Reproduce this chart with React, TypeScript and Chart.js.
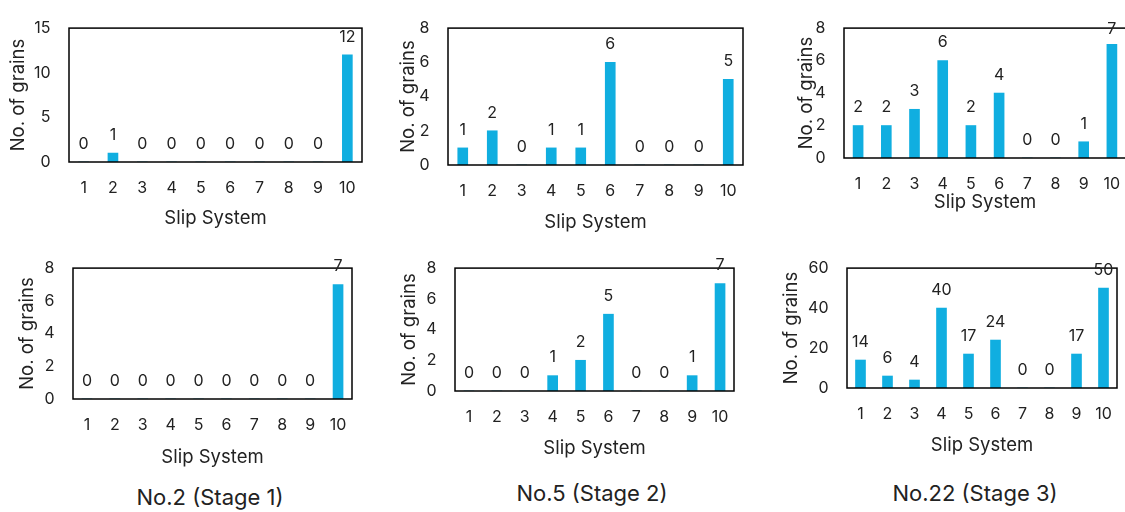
import { useEffect, useRef } from "react";
import { Chart, registerables } from "chart.js";

Chart.register(...registerables);

// Slip system categories shared by every panel
const slipSystems = ["1", "2", "3", "4", "5", "6", "7", "8", "9", "10"];

// Grain counts per slip system (upper row)
const grainsNo2Upper = [0, 1, 0, 0, 0, 0, 0, 0, 0, 12];
const grainsNo5Upper = [1, 2, 0, 1, 1, 6, 0, 0, 0, 5];
const grainsNo22Upper = [2, 2, 3, 6, 2, 4, 0, 0, 1, 7];

// Grain counts per slip system (lower row)
const grainsNo2Lower = [0, 0, 0, 0, 0, 0, 0, 0, 0, 7];
const grainsNo5Lower = [0, 0, 0, 1, 2, 5, 0, 0, 1, 7];
const grainsNo22Lower = [14, 6, 4, 40, 17, 24, 0, 0, 17, 50];

// Y axis ranges
const yMaxNo2Upper = 15;
const yStepNo2Upper = 5;
const yMaxSmall = 8;
const yStepSmall = 2;
const yMaxNo22Lower = 60;
const yStepNo22Lower = 20;

const captions = ["No.2 (Stage 1)", "No.5 (Stage 2)", "No.22 (Stage 3)"];
const captionCenters = [
  { x: 210, y: 497 },
  { x: 592, y: 493 },
  { x: 975, y: 493 },
];

const xTitleText = "Slip System";
const yTitleText = "No. of grains";

const FONT = "Inter, 'Open Sans', sans-serif";
const TEXT = "#222222";
const BAR = "#10AEE0";
const TICK_SIZE = 16;
const TITLE_SIZE = 18.5;
const LABEL_SIZE = 16;

type Panel = {
  values: number[];
  yMax: number;
  yStep: number;
  canvas: [number, number, number, number];
  plot: [number, number, number, number];
  yTitleX: number;
  xTitleY: number;
  labelMinY: number;
};

const panels: Panel[] = [
  {
    values: grainsNo2Upper, yMax: yMaxNo2Upper, yStep: yStepNo2Upper,
    canvas: [0, 0, 380, 240], plot: [69, 18, 362, 162],
    yTitleX: 18, xTitleY: 218, labelMinY: 0,
  },
  {
    values: grainsNo5Upper, yMax: yMaxSmall, yStep: yStepSmall,
    canvas: [380, 0, 380, 240], plot: [448, 26, 743, 165],
    yTitleX: 408, xTitleY: 222, labelMinY: 0,
  },
  {
    values: grainsNo22Upper, yMax: yMaxSmall, yStep: yStepSmall,
    canvas: [760, 0, 390, 240], plot: [844, 25, 1126, 158],
    yTitleX: 806.5, xTitleY: 202, labelMinY: 29,
  },
  {
    values: grainsNo2Lower, yMax: yMaxSmall, yStep: yStepSmall,
    canvas: [0, 240, 380, 235], plot: [73, 257, 352, 399],
    yTitleX: 27.5, xTitleY: 457, labelMinY: 0,
  },
  {
    values: grainsNo5Lower, yMax: yMaxSmall, yStep: yStepSmall,
    canvas: [380, 240, 380, 235], plot: [455, 257, 734, 391],
    yTitleX: 409, xTitleY: 448, labelMinY: 0,
  },
  {
    values: grainsNo22Lower, yMax: yMaxNo22Lower, yStep: yStepNo22Lower,
    canvas: [760, 240, 380, 235], plot: [847, 257, 1117, 388],
    yTitleX: 791, xTitleY: 445, labelMinY: 0,
  },
];

function BarPanel({ panel }: { panel: Panel }) {
  const ref = useRef<HTMLCanvasElement | null>(null);

  useEffect(() => {
    if (!ref.current) return;
    const [cx, cy, cw, ch] = panel.canvas;
    const [L, T, R, B] = panel.plot;
    const titleLH = TITLE_SIZE * 1.2;
    const yAxisWidth = L - cx;
    const xAxisHeight = panel.xTitleY + titleLH / 2 - B;
    const padBottom = cy + ch - (panel.xTitleY + titleLH / 2);
    const minY = panel.labelMinY ? panel.labelMinY - cy : -Infinity;

    const frameAndLabels = {
      id: "frameAndLabels",
      afterDatasetsDraw(chart: Chart) {
        const { ctx, chartArea } = chart;
        ctx.save();
        ctx.strokeStyle = "#000000";
        ctx.lineWidth = 1.5;
        ctx.strokeRect(
          chartArea.left,
          chartArea.top,
          chartArea.right - chartArea.left,
          chartArea.bottom - chartArea.top
        );
        ctx.fillStyle = TEXT;
        ctx.font = `${LABEL_SIZE}px ${FONT}`;
        ctx.textAlign = "center";
        ctx.textBaseline = "middle";
        const meta = chart.getDatasetMeta(0);
        const data = chart.data.datasets[0].data as number[];
        meta.data.forEach((bar: any, i: number) => {
          const y = Math.max(bar.y - 18, minY);
          ctx.fillText(String(data[i]), bar.x, y);
        });
        ctx.restore();
      },
    };

    const chart = new Chart(ref.current, {
      type: "bar",
      data: {
        labels: slipSystems,
        datasets: [
          {
            data: panel.values,
            backgroundColor: BAR,
            borderWidth: 0,
            barThickness: 10,
          },
        ],
      },
      options: {
        animation: false,
        responsive: false,
        maintainAspectRatio: false,
        layout: {
          padding: { top: T - cy, right: cx + cw - R, bottom: padBottom, left: 0 },
        },
        plugins: {
          legend: { display: false },
          tooltip: { enabled: false },
        },
        scales: {
          x: {
            grid: { display: false, drawTicks: false },
            border: { display: false },
            ticks: {
              color: TEXT,
              font: { family: FONT, size: TICK_SIZE },
              padding: 17,
              maxRotation: 0,
              autoSkip: false,
            },
            title: {
              display: true,
              text: xTitleText,
              color: TEXT,
              font: { family: FONT, size: TITLE_SIZE },
              padding: { top: 0, bottom: 0 },
            },
            afterFit(scale: any) {
              scale.height = xAxisHeight;
            },
          },
          y: {
            min: 0,
            max: panel.yMax,
            grid: { display: false, drawTicks: false },
            border: { display: false },
            ticks: {
              stepSize: panel.yStep,
              color: TEXT,
              font: { family: FONT, size: TICK_SIZE },
              padding: 18.5,
            },
            title: {
              display: true,
              text: yTitleText,
              color: TEXT,
              font: { family: FONT, size: TITLE_SIZE },
              padding: { top: panel.yTitleX - cx - titleLH / 2, bottom: 0 },
            },
            afterFit(scale: any) {
              scale.width = yAxisWidth;
            },
          },
        },
      },
      plugins: [frameAndLabels],
    });

    return () => chart.destroy();
  }, [panel]);

  const [cx, cy, cw, ch] = panel.canvas;
  return (
    <canvas
      ref={ref}
      width={cw}
      height={ch}
      style={{ position: "absolute", left: cx, top: cy, width: cw, height: ch }}
    />
  );
}

export default function App() {
  return (
    <div
      style={{
        position: "fixed",
        left: 0,
        top: 0,
        width: 1125,
        height: 512,
        overflow: "hidden",
        background: "#ffffff",
      }}
    >
      {panels.map((p, i) => (
        <BarPanel key={i} panel={p} />
      ))}
      {captions.map((c, i) => (
        <div
          key={c}
          style={{
            position: "absolute",
            left: captionCenters[i].x - 120,
            top: captionCenters[i].y - 13,
            width: 240,
            height: 26,
            lineHeight: "26px",
            textAlign: "center",
            fontFamily: FONT,
            fontSize: 22,
            color: TEXT,
            whiteSpace: "nowrap",
          }}
        >
          {c}
        </div>
      ))}
    </div>
  );
}
